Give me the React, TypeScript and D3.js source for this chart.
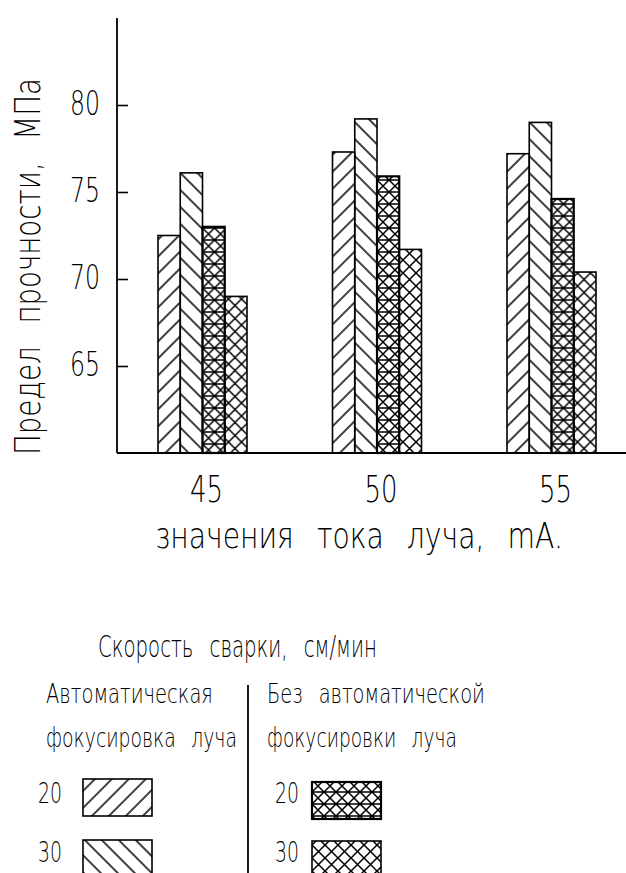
import { useEffect, useRef } from 'react'
import * as d3 from 'd3'

// beam current groups, mA
const currents = ['45', '50', '55']
// welding speed series: with / without automatic beam focusing
const seriesKeys = ['auto20', 'auto30', 'noAuto20', 'noAuto30']
const auto20 = [72.5, 77.3, 77.2]
const auto30 = [76.1, 79.2, 79.0]
const noAuto20 = [73.0, 75.9, 74.6]
const noAuto30 = [69.0, 71.7, 70.4]
const yTicks = [65, 70, 75, 80]

const FONT = '"DejaVu Sans", sans-serif'

function App() {
  const svgRef = useRef<SVGSVGElement | null>(null)

  useEffect(() => {
    const svg = d3.select(svgRef.current)
    svg.selectAll('*').remove()

    const values: Record<string, number[]> = { auto20, auto30, noAuto20, noAuto30 }

    // ── Hatch patterns ──────────────────────────────────────────────
    const defs = svg.append('defs')
    const hatch = (id: string, rot: number) => {
      const p = defs.append('pattern')
        .attr('id', id)
        .attr('patternUnits', 'userSpaceOnUse')
        .attr('width', 12).attr('height', 12)
        .attr('patternTransform', `rotate(${rot})`)
      p.append('line').attr('x1', 6).attr('y1', 0).attr('x2', 6).attr('y2', 12)
        .attr('stroke', '#000').attr('stroke-width', 1.5)
    }
    hatch('p-auto20', 45)
    hatch('p-auto30', -45)

    const grid = defs.append('pattern')
      .attr('id', 'p-noAuto20')
      .attr('patternUnits', 'userSpaceOnUse')
      .attr('width', 12).attr('height', 12)
    grid.append('path')
      .attr('d', 'M0,0H12M0,12H12M0,0L12,12M12,0L0,12')
      .attr('stroke', '#000').attr('stroke-width', 1.5).attr('fill', 'none')

    const cross = defs.append('pattern')
      .attr('id', 'p-noAuto30')
      .attr('patternUnits', 'userSpaceOnUse')
      .attr('width', 13).attr('height', 13)
    cross.append('path')
      .attr('d', 'M0,0L13,13M13,0L0,13')
      .attr('stroke', '#000').attr('stroke-width', 1.5).attr('fill', 'none')

    // ── Scales ──────────────────────────────────────────────────────
    const x0 = d3.scalePoint<string>().domain(currents).range([202.5, 551.5])
    const x1 = d3.scaleBand<string>().domain(seriesKeys).range([-44.5, 44.5])
    const y = d3.scaleLinear().domain([60, 85]).range([453, 18])

    // ── Bars ────────────────────────────────────────────────────────
    const groups = svg.append('g')
      .selectAll('g')
      .data(currents)
      .join('g')
      .attr('transform', d => `translate(${x0(d)},0)`)

    groups.selectAll('rect')
      .data((d, i) => seriesKeys.map(k => ({ key: k, value: values[k][i] })))
      .join('rect')
      .attr('x', d => x1(d.key)!)
      .attr('width', x1.bandwidth())
      .attr('y', d => y(d.value))
      .attr('height', d => y(60) - y(d.value))
      .attr('fill', d => `url(#p-${d.key})`)
      .attr('stroke', '#000')
      .attr('stroke-width', d => (d.key === 'noAuto20' ? 2.2 : 1.6))

    // narrow "drafting" text: natural glyphs squeezed horizontally to a target width
    const label = (
      txt: string, x: number, yy: number, size: number, len: number,
      opts: { rotate?: boolean, anchor?: string } = {}
    ) => {
      const t = svg.append('text')
        .attr('font-family', FONT)
        .attr('font-weight', 200)
        .attr('font-size', size)
        .attr('word-spacing', size * 0.5)
        .attr('text-anchor', opts.anchor || 'start')
        .attr('fill', '#000')
        .text(txt)
      const natural = (t.node() as SVGTextElement).getComputedTextLength() || len
      const s = len / natural
      t.attr('transform', `translate(${x},${yy})${opts.rotate ? ' rotate(-90)' : ''} scale(${s},1)`)
      return t
    }

    // ── Axes ────────────────────────────────────────────────────────
    const yAxis = svg.append('g')
      .attr('transform', `translate(${117},0)`)
      .call(d3.axisLeft(y).tickValues(yTicks).tickSizeInner(-11).tickSizeOuter(0).tickFormat(() => ''))
    yAxis.select('.domain').remove()
    yAxis.selectAll('line').attr('stroke', '#000').attr('stroke-width', 1.6)
    yTicks.forEach(t => label(String(t), 100, y(t) + 10, 34, 30, { anchor: 'end' }))

    svg.append('line')
      .attr('x1', 117).attr('x2', 117)
      .attr('y1', y(85)).attr('y2', y(60))
      .attr('stroke', '#000').attr('stroke-width', 1.8)
    svg.append('line')
      .attr('x1', 117).attr('x2', 626)
      .attr('y1', y(60)).attr('y2', y(60))
      .attr('stroke', '#000').attr('stroke-width', 1.8)

    currents.forEach(c => label(c, x0(c)! + 4, y(60) + 49, 38, 33, { anchor: 'middle' }))

    label('значения тока луча, mA.', 155, 548, 36, 408)
    label('Предел прочности, МПа', 40, 455, 36, 377, { rotate: true })

    // ── Legend ──────────────────────────────────────────────────────
    label('Скорость сварки, см/мин', 98, 657, 30, 279)
    label('Автоматическая', 46, 703, 26, 167)
    label('фокусировка луча', 46, 747, 26, 191)
    label('Без автоматической', 267, 703, 26, 218)
    label('фокусировки луча', 267, 747, 26, 190)

    svg.append('line')
      .attr('x1', 248).attr('x2', 248)
      .attr('y1', 685).attr('y2', 873)
      .attr('stroke', '#000').attr('stroke-width', 1.8)

    const legendItems = [
      { key: 'auto20', text: '20', tx: 38, sx: 83, sy: 779, ty: 803 },
      { key: 'auto30', text: '30', tx: 38, sx: 83, sy: 840, ty: 862 },
      { key: 'noAuto20', text: '20', tx: 275, sx: 312, sy: 782, ty: 803 },
      { key: 'noAuto30', text: '30', tx: 275, sx: 312, sy: 841, ty: 862 },
    ]
    legendItems.forEach(d => {
      label(d.text, d.tx, d.ty, 28, 24)
      svg.append('rect')
        .attr('x', d.sx).attr('y', d.sy)
        .attr('width', 69).attr('height', 37)
        .attr('fill', `url(#p-${d.key})`)
        .attr('stroke', '#000')
        .attr('stroke-width', d.key === 'noAuto20' ? 2.2 : 1.6)
    })
  }, [])

  return (
    <svg
      ref={svgRef}
      width={626}
      height={873}
      style={{ position: 'absolute', left: 0, top: 0, background: '#fff' }}
    />
  )
}

export default App
